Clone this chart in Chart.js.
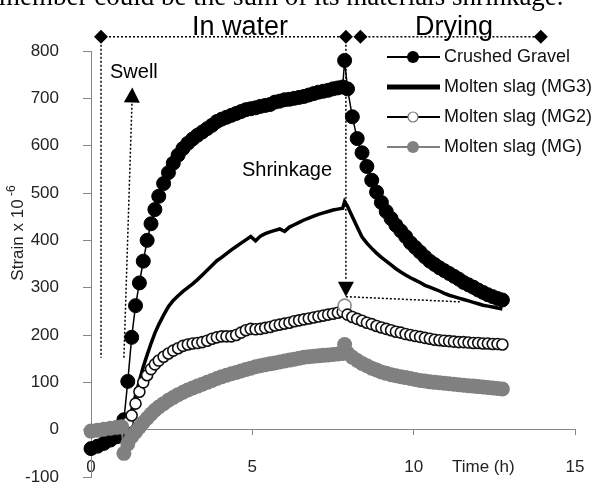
<!DOCTYPE html>
<html>
<head>
<meta charset="utf-8">
<script src="https://cdn.jsdelivr.net/npm/chart.js@4.4.1/dist/chart.umd.min.js"></script>
<style>
  body { margin: 0; background: #fff; }
  canvas { display: block; }
</style>
</head>
<body>
<canvas id="strainChart" width="600" height="489"></canvas>
<script>
// sampling times (h), shared by all four specimens
var hours = [0, 0.2, 0.4, 0.6, 0.8, 0.95,
  1.02, 1.14, 1.26, 1.38, 1.5, 1.62, 1.74, 1.86, 1.98, 2.1,
  2.25, 2.4, 2.55, 2.7, 2.85, 3.0, 3.15, 3.3, 3.45, 3.6, 3.75, 3.9, 4.05, 4.2, 4.35, 4.5, 4.65, 4.8, 4.95,
  5.1, 5.25, 5.4, 5.55, 5.7, 5.85, 6.0, 6.15, 6.3, 6.45, 6.6, 6.75, 6.9, 7.05, 7.2, 7.35, 7.5, 7.65, 7.8,
  7.86,
  7.95, 8.1, 8.25, 8.4, 8.55, 8.7, 8.85, 9.0, 9.15, 9.3, 9.45, 9.6, 9.75, 9.9, 10.05, 10.2, 10.35, 10.5,
  10.65, 10.8, 10.95, 11.1, 11.25, 11.4, 11.55, 11.7, 11.85, 12.0, 12.15, 12.3, 12.45, 12.6, 12.75];
var peakHour = 7.86;

// strain x 10^-6
var crushedGravel = [-40, -35, -29, -22, -15, -8,
  21, 102, 195, 262, 310, 356, 400, 435, 465, 493,
  520, 543, 563, 580, 594, 605, 614, 622, 629, 636, 643, 651, 656, 660, 664, 668, 672, 676, 678,
  680, 683, 685, 687, 692, 694, 697, 698, 700, 702, 704, 707, 710, 713, 715, 717, 720, 722, 724,
  780,
  720, 661, 615, 585, 556, 527, 502, 480, 461, 446, 432, 420, 408, 395, 385, 375, 365, 356,
  349, 342, 336, 330, 324, 318, 311, 306, 301, 295, 290, 285, 281, 277, 274];
var slagMG3 = [-5, -5, -4, -4, -3, -2,
  0, 10, 40, 72, 103, 133, 158, 182, 204, 222,
  242, 260, 273, 283, 292, 300, 308, 317, 327, 337, 347, 357, 364, 372, 380, 387, 394, 401, 408,
  399, 409, 414, 418, 421, 424, 419, 428, 433, 438, 443, 447, 451, 455, 458, 461, 464, 466, 468,
  482,
  472, 450, 428, 407, 394, 383, 373, 364, 356, 348, 340, 333, 327, 321, 316, 311, 305, 301,
  297, 293, 288, 284, 281, 278, 275, 272, 269, 266, 263, 261, 259, 257, 255];
var slagMG2 = [-2, -2, -1, -1, 0, 0,
  5, 15, 30, 55, 80, 100, 115, 128, 138, 146,
  154, 161, 167, 172, 177, 180, 182, 183, 185, 188, 192, 195, 197, 197, 197, 200, 205, 210, 213,
  212, 213, 215, 217, 220, 222, 224, 226, 229, 231, 233, 235, 237, 239, 241, 243, 245, 247, 249,
  262,
  243, 238, 234, 230, 226, 223, 219, 216, 213, 210, 207, 205, 202, 200, 198, 196, 194, 192,
  190, 189, 188, 187, 186, 185, 185, 184, 183, 183, 182, 182, 181, 181, 180];
var slagMG = [-3, -1, 1, 3, 5, 6,
  -50, -30, -15, -5, 5, 15, 24, 33, 41, 48,
  55, 62, 68, 74, 79, 84, 88, 92, 96, 100, 104, 108, 112, 115, 118, 121, 124, 127, 130,
  133, 135, 137, 139, 141, 143, 145, 147, 149, 151, 153, 154, 155, 156, 157, 158, 159, 160, 161,
  180,
  162, 153, 146, 140, 135, 130, 126, 122, 119, 116, 114, 112, 110, 108, 106, 104, 103, 101,
  100, 99, 98, 97, 96, 95, 94, 93, 92, 91, 90, 89, 88, 87, 86];

var seriesNames = ['Crushed Gravel', 'Molten slag (MG3)', 'Molten slag (MG2)', 'Molten slag (MG)'];
var yTicks = [-100, 800, 100];   // min, max, step
var xTicks = [0, 15, 5];

function points(values) {
  return hours.map(function (h, i) { return { x: h, y: values[i] }; });
}

function dottedLine(c, x1, y1, x2, y2) {
  c.save();
  c.setLineDash([2, 2]);
  c.lineWidth = 1.5;
  c.strokeStyle = '#000';
  c.beginPath();
  c.moveTo(x1, y1);
  c.lineTo(x2, y2);
  c.stroke();
  c.restore();
}
function diamond(c, x, y) {
  c.beginPath();
  c.moveTo(x, y - 7); c.lineTo(x + 7, y); c.lineTo(x, y + 7); c.lineTo(x - 7, y);
  c.closePath();
  c.fill();
}
function arrowHead(c, x0, y0, x1, y1) {
  var a = Math.atan2(y1 - y0, x1 - x0);
  c.save();
  c.translate(x1, y1);
  c.rotate(a);
  c.beginPath();
  c.moveTo(0, 0); c.lineTo(-15, -8); c.lineTo(-15, 8);
  c.closePath();
  c.fill();
  c.restore();
}

// phase brackets, arrows, labels and the legend
var decorations = {
  id: 'decorations',
  afterDatasetsDraw: function (chart) {
    var c = chart.ctx;
    var px = function (t) { return chart.scales.x.getPixelForValue(t); };
    var py = function (v) { return chart.scales.y.getPixelForValue(v); };
    c.save();
    c.fillStyle = '#000';

    // caption line from the page above the figure
    c.font = '27px "Liberation Serif", "Times New Roman", serif';
    c.textBaseline = 'alphabetic';
    c.fillText('member could be the sum of its materials shrinkage.', -1, 5);

    // in water / drying brackets
    dottedLine(c, px(0.31), py(830), px(7.9), py(830));
    dottedLine(c, px(8.35), py(830), px(13.94), py(830));
    dottedLine(c, px(0.31), py(830), px(0.31), py(152));
    diamond(c, px(0.31), py(830));
    diamond(c, px(7.9), py(830));
    diamond(c, px(8.35), py(830));
    diamond(c, px(13.94), py(830));
    c.font = '27px "Liberation Sans", Arial, sans-serif';
    c.fillText('In water', 192, 35);
    c.fillText('Drying', 415, 35);

    // swell arrow
    dottedLine(c, px(1.02), py(152), px(1.27), py(691));
    arrowHead(c, px(1.02), py(152), px(1.28), py(723));
    c.font = '20px "Liberation Sans", Arial, sans-serif';
    c.fillText('Swell', 110, 78);

    // shrinkage arrow
    dottedLine(c, px(7.9), py(830), px(7.9), py(317));
    arrowHead(c, px(7.9), py(400), px(7.9), py(281));
    dottedLine(c, px(7.9), py(281), px(11.46), py(270));
    c.fillText('Shrinkage', 242, 176);

    // axis titles
    c.font = '17px "Liberation Sans", Arial, sans-serif';
    c.textBaseline = 'middle';
    c.fillStyle = '#222';
    c.fillText('Time (h)', 452, 467);
    c.save();
    c.translate(18, 233);
    c.rotate(-Math.PI / 2);
    var main = 'Strain x 10';
    var w1 = c.measureText(main).width;
    c.font = '12px "Liberation Sans", Arial, sans-serif';
    var w2 = c.measureText(' -6').width;
    var x0 = -(w1 + w2) / 2;
    c.font = '17px "Liberation Sans", Arial, sans-serif';
    c.fillText(main, x0, 0);
    c.font = '12px "Liberation Sans", Arial, sans-serif';
    c.fillText(' -6', x0 + w1, -6);
    c.restore();

    // legend
    var lx1 = 387, lx2 = 440, mx = 413;
    c.font = '18px "Liberation Sans", Arial, sans-serif';
    seriesNames.forEach(function (name, i) {
      var ly = 57 + i * 30;
      c.setLineDash([]);
      c.beginPath();
      c.moveTo(lx1, ly); c.lineTo(lx2, ly);
      c.lineWidth = i === 1 ? 5 : 2;
      c.strokeStyle = i === 3 ? '#808080' : '#000';
      c.stroke();
      if (i !== 1) {
        c.beginPath();
        c.arc(mx, ly, i === 2 ? 5 : 6, 0, Math.PI * 2);
        c.fillStyle = i === 0 ? '#000' : i === 2 ? '#fff' : '#808080';
        c.fill();
        if (i === 2) { c.lineWidth = 1.2; c.strokeStyle = '#777'; c.stroke(); }
      }
      c.fillStyle = '#111';
      c.fillText(name, 444, ly);
    });
    c.restore();
  }
};

Chart.defaults.font.family = '"Liberation Sans", Arial, sans-serif';

var ctx = document.getElementById('strainChart');
new Chart(ctx, {
  type: 'scatter',
  data: {
    datasets: [{
      label: seriesNames[0],
      data: points(crushedGravel),
      showLine: true,
      borderColor: '#000',
      borderWidth: 1.5,
      pointRadius: 7,
      pointBorderWidth: 1,
      pointBackgroundColor: '#000',
      pointBorderColor: '#000',
      clip: false,
      order: 4
    },
    {
      label: seriesNames[1],
      data: points(slagMG3),
      showLine: true,
      borderColor: '#000',
      borderWidth: 3.5,
      pointRadius: 0,
      clip: false,
      order: 3
    },
    {
      label: seriesNames[2],
      data: points(slagMG2),
      showLine: true,
      borderColor: '#000',
      borderWidth: 1.5,
      pointRadius: function (c) { return hours[c.dataIndex] === peakHour ? 6.5 : 5.5; },
      pointBorderWidth: 1.6,
      pointBackgroundColor: '#fff',
      pointBorderColor: function (c) { return hours[c.dataIndex] === peakHour ? '#8c8c8c' : '#111'; },
      clip: false,
      order: 2
    },
    {
      label: seriesNames[3],
      data: points(slagMG),
      showLine: true,
      borderColor: '#808080',
      borderWidth: 2,
      pointRadius: 7.5,
      pointBorderWidth: 0,
      pointBackgroundColor: '#808080',
      clip: false,
      order: 1
    }]
  },
  options: {
    responsive: false,
    animation: false,
    devicePixelRatio: 1,
    events: [],
    layout: { padding: { top: 51, right: 25, bottom: 12, left: 0 } },
    plugins: { legend: { display: false }, tooltip: { enabled: false } },
    scales: {
      x: {
        type: 'linear',
        position: { y: 0 },
        min: xTicks[0],
        max: xTicks[1],
        ticks: { stepSize: xTicks[2], color: '#222', font: { size: 17 }, padding: 22, maxRotation: 0 },
        grid: { drawOnChartArea: false, tickLength: 5, color: '#868686' },
        border: { color: '#868686' },
        // axis sits on y = 0, so it takes no room of its own
        afterFit: function (s) { s.height = 0; s.paddingLeft = 10; s.paddingRight = 10; }
      },
      y: {
        min: yTicks[0],
        max: yTicks[1],
        ticks: { stepSize: yTicks[2], color: '#222', font: { size: 17 }, padding: 24 },
        grid: { drawOnChartArea: false, tickLength: 8, color: '#868686' },
        border: { color: '#868686' },
        afterFit: function (s) { s.width = 91; s.paddingTop = 10; s.paddingBottom = 10; }
      }
    }
  },
  plugins: [decorations]
});
</script>
</body>
</html>
